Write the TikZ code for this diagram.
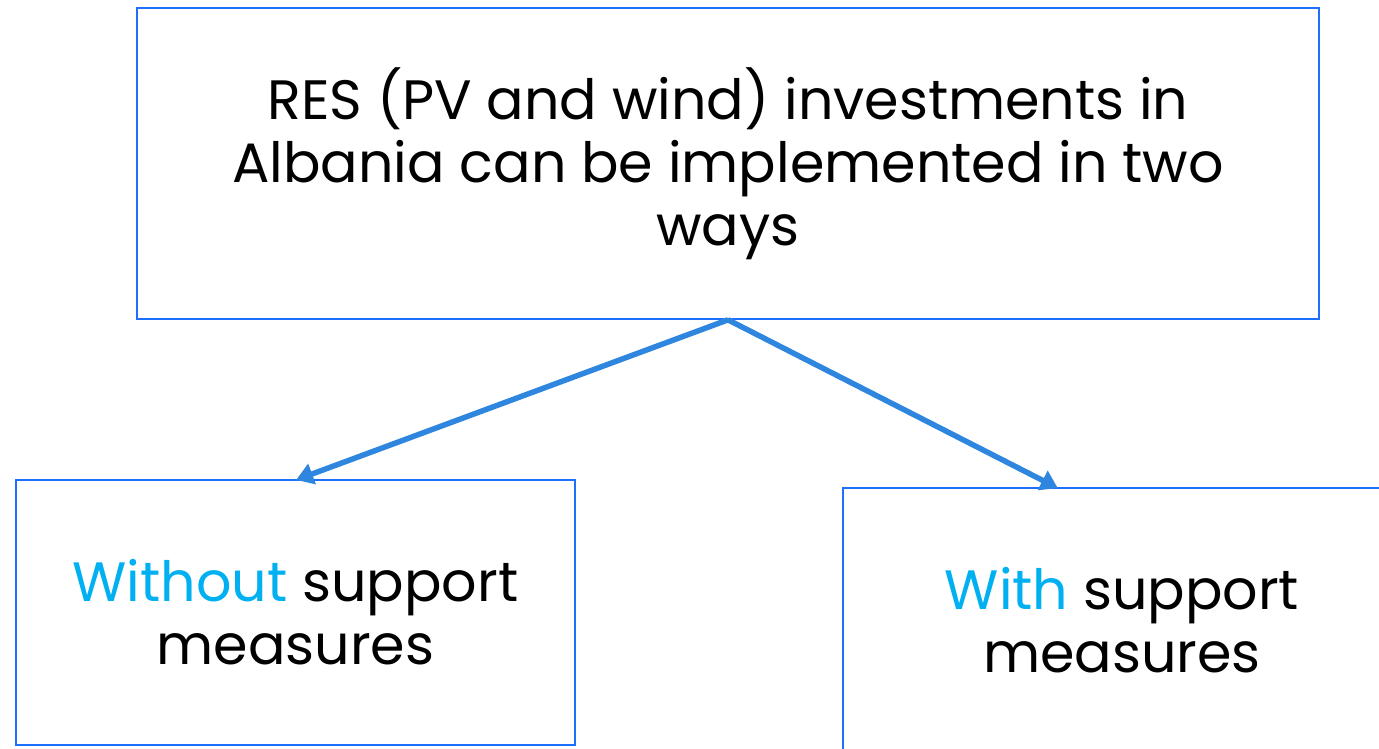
\documentclass[tikz,border=0pt]{standalone}
\usepackage{fontspec}
\setmainfont{Poppins}
\usetikzlibrary{arrows.meta}
\definecolor{boxblue}{HTML}{1F6FFF}
\definecolor{arrowblue}{HTML}{2E86DE}
\definecolor{hl}{HTML}{00B0F0}
\tikzset{
  box/.style={draw=boxblue, line width=1.6pt, minimum width=#1, align=center, inner sep=0pt, font=\fontsize{55.5}{63}\selectfont},
  conn/.style={draw=arrowblue, line width=5.5pt, -{Triangle[length=17pt,width=21pt]}, shorten >=-2pt}
}
\begin{document}
\begin{tikzpicture}[x=1pt,y=-1pt]
\useasboundingbox (0,0) rectangle (1379,748);
\node[box=1182pt, minimum height=311pt] (top) at (728,163.5) {RES (PV and wind) investments in\\Albania can be implemented in two\\ways};
\node[box=559pt, minimum height=265pt] (left) at (295.5,612.5) {{\color{hl}Without} support\\measures};
\node[box=558pt, minimum height=265pt] (right) at (1122,620.5) {{\color{hl}With} support\\measures};
\draw[conn] (top.south) -- ([xshift=2.5pt]left.north);
\draw[conn] (top.south) -- ([xshift=-66pt]right.north);
\end{tikzpicture}
\end{document}
